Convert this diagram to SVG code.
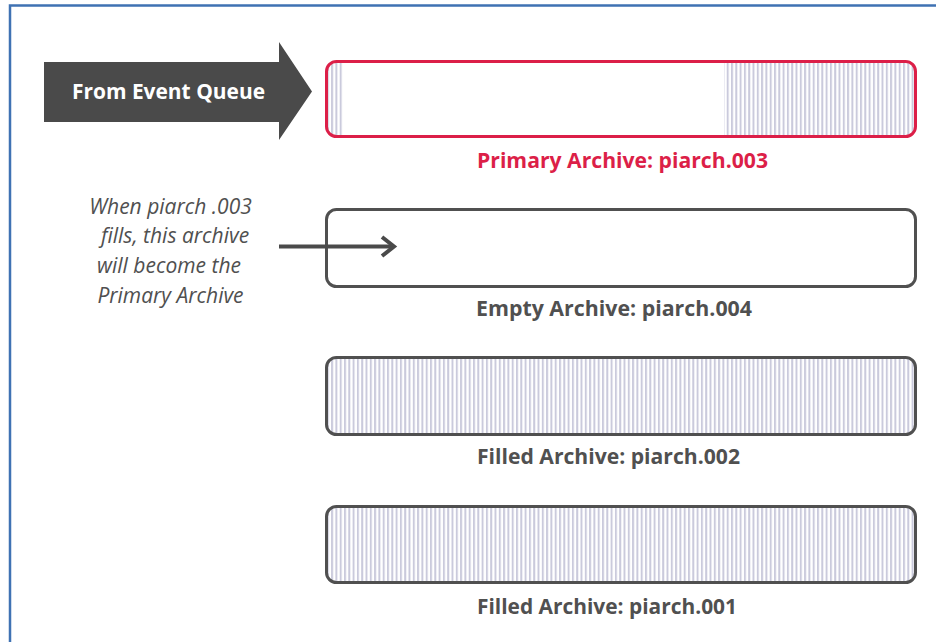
<svg xmlns="http://www.w3.org/2000/svg" width="936" height="642" viewBox="0 0 936 642">
<style>
.box{fill:none;stroke:#505050;stroke-width:3}
.lbl{font-family:"Open Sans","Noto Sans",sans-serif;font-weight:bold;font-size:21px;fill:#505050}
.note{font-family:"Open Sans","Noto Sans",sans-serif;font-style:italic;font-size:21px;fill:#505050;text-anchor:middle}
</style>
<defs>
<pattern id="stripes" x="0" y="0" width="4.3" height="10" patternUnits="userSpaceOnUse">
<rect x="0" y="0" width="2" height="10" fill="#cacadc"/>
</pattern>
<clipPath id="c1"><rect x="326.5" y="61.5" width="589" height="75" rx="10"/></clipPath>
</defs>
<rect width="936" height="642" fill="#ffffff"/>
<g id="frame" fill="none" stroke="#3f72b3" stroke-width="2.5">
<path d="M10 642 V5.5 H936"/>
</g>
<g id="source">
<path d="M44 62 H279 V42 L312 91.5 L279 140 V122 H44 Z" fill="#4a4a4a"/>
<text x="72" y="99" textLength="193" lengthAdjust="spacingAndGlyphs" font-family="'Open Sans','Noto Sans',sans-serif" font-weight="bold" font-size="21" fill="#ffffff">From Event Queue</text>
</g>
<g id="archive003">
<g clip-path="url(#c1)">
<rect x="326" y="62" width="18" height="74" fill="url(#stripes)"/>
<rect x="724" y="62" width="192" height="74" fill="url(#stripes)"/>
</g>
<rect x="326.5" y="61.5" width="589" height="75" rx="10" fill="none" stroke="#dc1f48" stroke-width="3"/>
<text x="477" y="168" class="lbl" style="fill:#dc1f48" textLength="291" lengthAdjust="spacingAndGlyphs">Primary Archive: piarch.003</text>
</g>
<g id="archive004">
<rect x="326.5" y="209.5" width="589" height="77" rx="10" class="box"/>
<text x="476" y="316" class="lbl" textLength="276" lengthAdjust="spacingAndGlyphs">Empty Archive: piarch.004</text>
</g>
<g id="archive002">
<rect x="326.5" y="357.5" width="589" height="77" rx="10" fill="url(#stripes)" stroke="#505050" stroke-width="3"/>
<text x="477" y="464" class="lbl" textLength="263" lengthAdjust="spacingAndGlyphs">Filled Archive: piarch.002</text>
</g>
<g id="archive001">
<rect x="326.5" y="506.5" width="589" height="76" rx="10" fill="url(#stripes)" stroke="#505050" stroke-width="3"/>
<text x="477" y="614" class="lbl" textLength="260" lengthAdjust="spacingAndGlyphs">Filled Archive: piarch.001</text>
</g>
<g id="note">
<text class="note" x="170.5" y="214">When piarch .003</text>
<text class="note" x="175" y="243">fills, this archive</text>
<text class="note" x="169" y="273">will become the</text>
<text class="note" x="170.5" y="303">Primary Archive</text>
</g>
<g id="connectors">
<path d="M279 246.5 H393" stroke="#4a4a4a" stroke-width="4" fill="none"/>
<path d="M382 237 L394 246.5 L382 256" stroke="#4a4a4a" stroke-width="4" fill="none" stroke-linejoin="miter"/>
</g>
</svg>
